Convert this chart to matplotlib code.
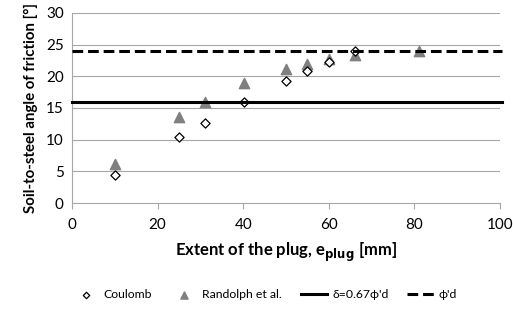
import matplotlib.pyplot as plt
import numpy as np

plt.rcParams['font.family'] = ['Lato', 'DejaVu Sans']

# Coulomb estimates
coulomb_x = [10, 25, 31, 40.2, 50, 55, 60, 66]
coulomb_y = [4.4, 10.5, 12.7, 16.0, 19.2, 20.8, 22.3, 24.0]

# Randolph et al. estimates
randolph_x = [10, 25, 31, 40.2, 50, 55, 60, 66, 81]
randolph_y = [6.1, 13.6, 16.0, 18.9, 21.2, 22.0, 22.7, 23.3, 24.0]

delta = 16.0   # 0.67 phi'd
phi_d = 24.0

x_ticks = [0, 20, 40, 60, 80, 100]
y_ticks = [0, 5, 10, 15, 20, 25, 30]

fig = plt.figure(figsize=(5.13, 3.09), dpi=100)
ax = fig.add_axes([0.1404, 0.343, 0.8343, 0.615])

grid_c = '#a6a6a6'
for yv in y_ticks[1:]:
    ax.axhline(yv, color=grid_c, lw=0.8, zorder=0)

ax.scatter(coulomb_x, coulomb_y, marker='D', s=22, facecolor='white',
           edgecolor='black', linewidth=0.9, zorder=3, label='Coulomb')
ax.scatter(randolph_x, randolph_y, marker='^', s=55, color='#808080',
           zorder=2, label='Randolph et al.')
ax.plot([0, 100.5], [delta, delta], color='black', lw=2.2, zorder=4,
        label="δ=0.67ϕ'd", clip_on=False)
ax.plot([0, 100.5], [phi_d, phi_d], color='black', lw=2.2, ls=(0, (3.5, 1.6)),
        zorder=4, label="ϕ'd", clip_on=False)

ax.set_xlim(0, 100)
ax.set_ylim(0, 30)
ax.set_xticks(x_ticks)
ax.set_yticks(y_ticks)
ax.tick_params(axis='x', direction='out', length=4, color=grid_c,
               labelsize=11, pad=7)
ax.tick_params(axis='y', length=0, labelsize=11, pad=6)

for side in ['top', 'right']:
    ax.spines[side].set_visible(False)
ax.spines['left'].set_color(grid_c)
ax.spines['bottom'].set_color(grid_c)

ax.set_xlabel('Extent of the plug, e$_{\\mathbf{plug}}$ [mm]',
              fontsize=12, fontweight='bold', labelpad=6)
ax.set_ylabel('Soil-to-steel angle of friction [°]', fontsize=10.8,
              fontweight='bold', labelpad=6)

ax.legend(loc='lower center', bbox_to_anchor=(0.45, -0.57), ncol=4,
          frameon=False, fontsize=8.8, handlelength=2.2, columnspacing=1.5,
          handletextpad=0.4, markerscale=0.7)

fig.savefig('out.png', dpi=100)
